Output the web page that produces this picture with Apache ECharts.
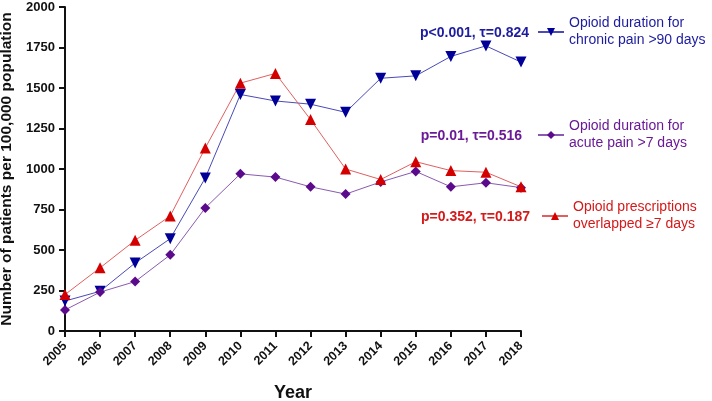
<!DOCTYPE html>
<html><head><meta charset="utf-8">
<script src="https://cdn.jsdelivr.net/npm/echarts@6/dist/echarts.min.js"></script>
<style>html,body{margin:0;padding:0;background:#fff}#c{width:712px;height:401px}</style>
</head><body><div id="c"></div>
<script>
const years = ['2005','2006','2007','2008','2009','2010','2011','2012','2013','2014','2015','2016','2017','2018'];
const chronic = [185,245,420,570,945,1460,1420,1400,1350,1560,1575,1695,1760,1660];
const acute = [130,240,305,470,760,970,950,890,845,920,985,890,915,885];
const overlap = [225,390,560,710,1130,1530,1590,1305,1000,935,1045,990,980,890];
const names = ['Opioid duration for\nchronic pain >90 days','Opioid duration for\nacute pain >7 days','Opioid prescriptions\noverlapped \u22657 days'];
const stats = ['p<0.001, \u03c4=0.824','p=0.01, \u03c4=0.516','p=0.352, \u03c4=0.187'];
const colors = ['#000099','#5c0a8c','#d40000'];
const textColors = ['#1c1ca0','#6a1a96','#d41a1a'];
const ff = 'Arial, "Liberation Sans", sans-serif';

const chart = echarts.init(document.getElementById('c'));
const legendTops = [10, 113, 194];
const legendLefts = [532, 532, 536];
const statTops = [34, 137, 218];
const statRights = [183, 190, 182];
chart.setOption({
  animation:false,
  backgroundColor:'#fff',
  grid:{left:65,right:191,top:7,bottom:70,containLabel:false,outerBoundsMode:'none'},
  xAxis:{type:'category',data:years,boundaryGap:false,
    name:'Year',nameLocation:'middle',nameGap:53,
    nameTextStyle:{fontFamily:ff,fontWeight:'bold',fontSize:18,color:'#111'},
    axisLine:{lineStyle:{color:'#111',width:2}},
    axisTick:{show:true,alignWithLabel:true,length:6,lineStyle:{width:2,color:'#111'}},
    axisLabel:{rotate:45,fontFamily:ff,fontWeight:'bold',fontSize:12.5,color:'#111',margin:13,interval:0},
    splitLine:{show:false}},
  yAxis:{type:'value',min:0,max:2000,interval:250,
    name:'Number of patients per 100,000 population',nameLocation:'middle',nameGap:49,
    nameTextStyle:{fontFamily:ff,fontWeight:'bold',fontSize:15.5,color:'#111'},
    axisLine:{show:true,lineStyle:{color:'#111',width:2}},
    axisTick:{show:true,length:6,lineStyle:{width:2,color:'#111'}},
    axisLabel:{fontFamily:ff,fontWeight:'bold',fontSize:13,color:'#111',margin:10,formatter:v=>String(v)},
    splitLine:{show:false}},
  legend:[0,1,2].map(i=>({
    data:[names[i]],left:legendLefts[i],top:legendTops[i],orient:'vertical',
    itemWidth:26,itemHeight:10,itemGap:0,
    textStyle:{fontFamily:ff,fontSize:14,color:textColors[i],lineHeight:17},
    selectedMode:false
  })),
  graphic:[0,1,2].map(i=>({type:'text',right:statRights[i],top:statTops[i]-8,
    style:{text:stats[i],fontFamily:ff,fontWeight:'bold',fontSize:14,fill:textColors[i],align:'right'}})),
  series:[
    {name:names[0],type:'line',data:chronic,symbol:'triangle',symbolRotate:180,symbolSize:11,
      itemStyle:{color:colors[0]},lineStyle:{width:1,color:'#4a4ab8'}},
    {name:names[1],type:'line',data:acute,symbol:'diamond',symbolSize:10,
      itemStyle:{color:colors[1]},lineStyle:{width:1,color:'#8a5ab0'}},
    {name:names[2],type:'line',data:overlap,symbol:'triangle',symbolSize:11,
      itemStyle:{color:colors[2]},lineStyle:{width:1,color:'#e06060'}}
  ]
});
</script></body></html>
